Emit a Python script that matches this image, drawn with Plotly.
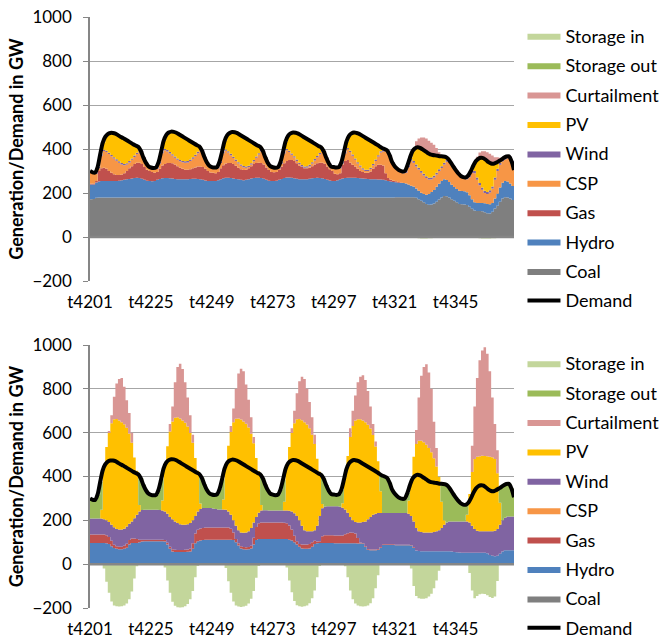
import plotly.graph_objects as go

# Hourly time steps of one week
hours = [f"t{n}" for n in range(4201, 4369)]
tick_labels = ["t4201", "t4225", "t4249", "t4273", "t4297", "t4321", "t4345"]

# Demand (GW), same in both scenarios
demand = (
    [300, 294, 293, 318, 375, 428, 455, 468, 473, 473, 470, 463, 456, 450, 443, 436, 429, 422, 416, 410, 392, 362, 338, 322]
    + [316, 314, 316, 340, 387, 437, 463, 475, 479, 478, 474, 467, 460, 453, 446, 439, 432, 425, 418, 412, 395, 365, 340, 324]
    + [318, 316, 318, 342, 387, 436, 462, 473, 477, 476, 472, 465, 458, 451, 444, 437, 430, 423, 416, 410, 393, 363, 338, 322]
    + [317, 315, 317, 340, 385, 434, 460, 471, 475, 474, 470, 463, 456, 449, 442, 435, 428, 421, 414, 408, 391, 361, 336, 320]
    + [318, 316, 318, 340, 385, 434, 460, 471, 475, 473, 469, 462, 455, 448, 441, 434, 427, 420, 412, 405, 400, 394, 372, 340]
    + [322, 310, 302, 298, 300, 325, 360, 390, 403, 408, 405, 398, 390, 382, 376, 373, 371, 369, 367, 366, 364, 356, 340, 322]
    + [305, 290, 278, 272, 271, 280, 300, 325, 345, 356, 360, 358, 350, 340, 334, 333, 338, 345, 352, 360, 366, 367, 345, 305]
)

# ---------------- Scenario 1 (upper chart) ----------------
coal_1 = (
    [172, 173, 178, 180, 180, 180, 180, 180, 180, 180, 180, 180, 180, 180, 180, 180, 180, 180, 180, 180, 180, 180, 180, 180]
    + [180, 180, 180, 180, 180, 180, 180, 180, 180, 180, 180, 180, 180, 180, 180, 180, 180, 180, 180, 180, 180, 180, 180, 180]
    + [180, 180, 180, 180, 180, 180, 180, 180, 180, 180, 180, 180, 180, 180, 180, 180, 180, 180, 180, 180, 180, 180, 180, 180]
    + [180, 180, 180, 180, 180, 180, 180, 180, 180, 180, 180, 180, 180, 180, 180, 180, 180, 180, 180, 180, 180, 180, 180, 180]
    + [180, 180, 180, 180, 180, 180, 180, 180, 180, 180, 180, 180, 180, 180, 180, 180, 180, 180, 180, 180, 180, 180, 180, 180]
    + [181, 181, 181, 181, 181, 181, 181, 181, 178, 172, 165, 158, 150, 147, 148, 152, 160, 170, 180, 186, 185, 180, 172, 165]
    + [158, 150, 149, 148, 145, 138, 128, 120, 118, 118, 117, 113, 108, 107, 115, 130, 142, 160, 175, 181, 180, 175, 168, 163]
)
hydro_1 = (
    [67, 66, 70, 72, 74, 75, 75, 75, 74, 74, 75, 76, 78, 80, 82, 84, 86, 88, 89, 88, 85, 80, 76, 74]
    + [73, 75, 80, 84, 87, 88, 88, 87, 86, 84, 83, 82, 82, 82, 83, 84, 85, 85, 84, 82, 80, 77, 75, 74]
    + [74, 75, 78, 83, 87, 89, 89, 88, 86, 84, 82, 80, 78, 80, 83, 86, 88, 89, 89, 88, 85, 80, 76, 74]
    + [74, 76, 80, 84, 88, 90, 90, 89, 87, 85, 83, 82, 82, 83, 85, 87, 88, 89, 88, 87, 84, 80, 77, 75]
    + [75, 78, 82, 86, 88, 89, 89, 89, 89, 88, 87, 86, 85, 84, 83, 82, 82, 81, 81, 80, 78, 75, 72, 70]
    + [68, 66, 65, 64, 62, 58, 52, 48, 42, 38, 36, 38, 42, 48, 56, 62, 68, 72, 75, 76, 74, 70, 66, 62]
    + [60, 60, 60, 60, 58, 52, 44, 38, 36, 36, 38, 40, 42, 42, 40, 45, 55, 65, 72, 74, 72, 68, 64, 61]
)
gas_1 = (
    [3, 4, 7, 48, 58, 60, 55, 45, 38, 31, 27, 26, 26, 30, 38, 48, 56, 64, 68, 70, 67, 58, 50, 46]
    + [42, 37, 35, 46, 58, 64, 68, 69, 69, 66, 59, 53, 48, 44, 43, 44, 47, 51, 56, 59, 58, 53, 45, 39]
    + [38, 35, 37, 49, 59, 65, 67, 68, 66, 60, 53, 48, 47, 46, 49, 56, 64, 67, 68, 68, 65, 56, 48, 42]
    + [40, 40, 45, 56, 67, 75, 80, 81, 78, 70, 62, 56, 51, 49, 50, 55, 62, 66, 69, 70, 69, 60, 51, 45]
    + [33, 27, 28, 64, 77, 81, 69, 59, 51, 42, 33, 29, 27, 28, 35, 48, 60, 67, 67, 65, 32, 13, 8, 6]
    + [4, 3, 2, 0, 0, 0, 0, 0, 0, 0, 0, 0, 0, 0, 0, 0, 0, 0, 0, 0, 0, 0, 0, 0]
    + [0, 0, 0, 0, 0, 0, 0, 0, 0, 0, 0, 0, 0, 0, 0, 0, 0, 0, 0, 0, 0, 0, 0, 0]
)
csp_1 = (
    [53, 46, 32, 12, 57, 76, 76, 77, 75, 72, 65, 56, 46, 36, 29, 27, 29, 32, 40, 50, 54, 38, 26, 16]
    + [15, 16, 15, 24, 56, 62, 53, 44, 35, 30, 29, 29, 30, 32, 33, 38, 44, 52, 61, 73, 71, 49, 34, 25]
    + [20, 20, 17, 24, 55, 58, 48, 36, 27, 22, 19, 16, 12, 9, 6, 7, 12, 24, 38, 53, 57, 41, 28, 20]
    + [17, 13, 6, 14, 44, 49, 36, 24, 16, 11, 7, 3, 2, 4, 7, 12, 18, 27, 39, 52, 52, 35, 22, 14]
    + [24, 25, 22, 4, 34, 49, 48, 41, 31, 24, 19, 12, 8, 8, 11, 16, 24, 38, 56, 64, 104, 120, 106, 78]
    + [61, 52, 46, 45, 49, 78, 114, 108, 101, 97, 91, 83, 76, 66, 58, 56, 56, 58, 59, 67, 83, 98, 94, 87]
    + [79, 72, 61, 56, 60, 82, 120, 132, 106, 81, 60, 47, 45, 53, 65, 85, 103, 103, 97, 97, 106, 116, 105, 73]
)
wind_1 = (
    [5, 5, 6, 6, 6, 6, 6, 6, 6, 6, 6, 6, 6, 6, 6, 6, 6, 6, 6, 6, 6, 6, 6, 6]
    + [6, 6, 6, 6, 6, 6, 6, 6, 6, 6, 6, 6, 6, 6, 6, 6, 6, 6, 6, 6, 6, 6, 6, 6]
    + [6, 6, 6, 6, 6, 6, 6, 6, 6, 6, 6, 6, 6, 6, 6, 6, 6, 6, 6, 6, 6, 6, 6, 6]
    + [6, 6, 6, 6, 6, 6, 6, 6, 6, 6, 6, 6, 6, 6, 6, 6, 6, 6, 6, 6, 6, 6, 6, 6]
    + [6, 6, 6, 6, 6, 6, 6, 6, 6, 6, 6, 6, 6, 6, 6, 6, 6, 6, 6, 6, 6, 6, 6, 6]
    + [8, 8, 8, 8, 8, 8, 8, 8, 8, 8, 8, 8, 8, 8, 8, 8, 8, 8, 8, 8, 8, 8, 8, 8]
    + [8, 8, 8, 8, 8, 8, 8, 10, 10, 10, 10, 10, 10, 10, 10, 10, 10, 10, 8, 8, 8, 8, 8, 8]
)
pv_1 = (
    [0, 0, 0, 0, 0, 31, 63, 85, 100, 110, 117, 119, 120, 118, 108, 91, 72, 52, 33, 16, 0, 0, 0, 0]
    + [0, 0, 0, 0, 0, 37, 68, 89, 103, 112, 117, 117, 114, 109, 101, 87, 70, 51, 31, 12, 0, 0, 0, 0]
    + [0, 0, 0, 0, 0, 38, 72, 95, 112, 124, 132, 135, 135, 130, 120, 102, 80, 57, 35, 15, 0, 0, 0, 0]
    + [0, 0, 0, 0, 0, 34, 68, 91, 108, 122, 132, 136, 135, 127, 114, 95, 74, 53, 32, 13, 0, 0, 0, 0]
    + [0, 0, 0, 0, 0, 29, 68, 96, 118, 133, 144, 149, 149, 142, 126, 102, 75, 48, 22, 10, 0, 0, 0, 0]
    + [0, 0, 0, 0, 0, 0, 5, 45, 74, 93, 105, 111, 114, 113, 106, 95, 79, 61, 45, 29, 14, 0, 0, 0]
    + [0, 0, 0, 0, 0, 0, 0, 25, 75, 111, 135, 148, 145, 128, 104, 63, 28, 7, 0, 0, 0, 0, 0, 0]
)
curtail_1 = (
    [0, 0, 0, 0, 0, 0, 0, 0, 0, 0, 0, 0, 0, 0, 0, 0, 0, 0, 0, 0, 0, 0, 0, 0]
    + [0, 0, 0, 0, 0, 0, 0, 0, 0, 0, 0, 0, 0, 0, 0, 0, 0, 0, 0, 0, 0, 0, 0, 0]
    + [0, 0, 0, 0, 0, 0, 0, 0, 0, 0, 0, 0, 0, 0, 0, 0, 0, 0, 0, 0, 0, 0, 0, 0]
    + [0, 0, 0, 0, 0, 0, 0, 0, 0, 0, 0, 0, 0, 0, 0, 0, 0, 0, 0, 0, 0, 0, 0, 0]
    + [0, 0, 0, 0, 0, 0, 0, 0, 0, 0, 0, 0, 0, 0, 0, 0, 0, 0, 0, 0, 0, 0, 0, 0]
    + [0, 0, 0, 0, 0, 0, 0, 0, 32, 40, 47, 54, 58, 56, 52, 46, 34, 16, 0, 0, 0, 0, 0, 0]
    + [0, 0, 0, 0, 0, 0, 0, 0, 20, 28, 30, 32, 35, 38, 36, 30, 25, 15, 0, 0, 0, 0, 0, 0]
)
storage_out_1 = [0] * 168
storage_in_1 = (
    [0, 0, 0, 0, 0, 0, 0, 0, 0, 0, 0, 0, 0, 0, 0, 0, 0, 0, 0, 0, 0, 0, 0, 0]
    + [0, 0, 0, 0, 0, 0, 0, 0, 0, 0, 0, 0, 0, 0, 0, 0, 0, 0, 0, 0, 0, 0, 0, 0]
    + [0, 0, 0, 0, 0, 0, 0, 0, 0, 0, 0, 0, 0, 0, 0, 0, 0, 0, 0, 0, 0, 0, 0, 0]
    + [0, 0, 0, 0, 0, 0, 0, 0, 0, 0, 0, 0, 0, 0, 0, 0, 0, 0, 0, 0, 0, 0, 0, 0]
    + [0, 0, 0, 0, 0, 0, 0, 0, 0, 0, 0, 0, 0, 0, 0, 0, 0, 0, 0, 0, 0, 0, 0, 0]
    + [0, 0, 0, 0, 0, 0, 0, 0, -3, -6, -7, -7, -7, -6, -6, -5, -4, -3, 0, 0, 0, 0, 0, 0]
    + [0, 0, 0, 0, 0, 0, 0, 0, -4, -6, -7, -7, -7, -7, -6, -6, -5, -3, 0, 0, 0, 0, 0, 0]
)

# ---------------- Scenario 2 (lower chart) ----------------
coal_2 = [0] * 168
csp_2 = [0] * 168
hydro_2 = (
    [97, 97, 97, 97, 97, 97, 96, 92, 82, 74, 70, 68, 68, 70, 75, 90, 97, 97, 97, 100, 104, 105, 105, 105]
    + [105, 105, 105, 105, 105, 103, 90, 70, 58, 56, 55, 55, 55, 56, 57, 58, 70, 95, 105, 108, 110, 112, 112, 112]
    + [112, 112, 112, 112, 112, 112, 112, 112, 110, 100, 85, 72, 68, 67, 68, 72, 90, 110, 115, 115, 115, 115, 115, 115]
    + [115, 115, 115, 115, 115, 115, 112, 108, 100, 90, 80, 72, 70, 70, 72, 80, 92, 95, 97, 97, 97, 97, 97, 97]
    + [96, 96, 96, 96, 96, 96, 96, 95, 95, 94, 94, 94, 80, 66, 64, 64, 64, 66, 75, 88, 88, 88, 88, 88]
    + [86, 86, 86, 86, 86, 86, 85, 75, 62, 60, 59, 59, 59, 59, 59, 59, 59, 59, 59, 59, 59, 59, 58, 56]
    + [54, 53, 52, 52, 52, 52, 52, 52, 52, 52, 52, 52, 50, 42, 38, 36, 38, 48, 58, 63, 64, 64, 64, 64]
)
gas_2 = (
    [38, 38, 38, 38, 38, 38, 36, 32, 25, 15, 12, 12, 12, 14, 18, 20, 20, 20, 18, 12, 8, 7, 7, 7]
    + [7, 7, 7, 7, 7, 7, 8, 10, 10, 10, 10, 10, 10, 10, 10, 12, 25, 45, 52, 55, 55, 55, 55, 55]
    + [55, 55, 55, 55, 55, 55, 55, 50, 35, 15, 10, 10, 10, 10, 10, 12, 30, 60, 72, 75, 75, 75, 75, 75]
    + [75, 75, 75, 75, 74, 72, 65, 50, 30, 15, 12, 18, 20, 20, 20, 20, 15, 8, 8, 30, 35, 35, 35, 35]
    + [35, 35, 35, 35, 40, 45, 48, 48, 45, 25, 5, 3, 3, 3, 3, 3, 3, 3, 3, 3, 3, 3, 3, 3]
    + [3, 3, 3, 3, 3, 3, 3, 3, 0, 0, 0, 0, 0, 0, 0, 0, 0, 0, 0, 0, 0, 0, 0, 0]
    + [0, 0, 0, 0, 0, 0, 0, 0, 0, 0, 0, 0, 0, 0, 0, 0, 0, 0, 0, 0, 0, 0, 0, 0]
)
wind_2 = (
    [73, 73, 73, 73, 73, 70, 68, 68, 73, 79, 78, 78, 78, 78, 79, 75, 78, 93, 110, 128, 135, 136, 136, 136]
    + [136, 136, 136, 135, 133, 130, 132, 135, 137, 129, 123, 117, 115, 114, 115, 118, 105, 80, 83, 89, 91, 89, 89, 89]
    + [87, 85, 83, 83, 83, 81, 73, 63, 55, 60, 60, 63, 65, 68, 72, 81, 70, 45, 48, 55, 56, 56, 55, 55]
    + [55, 55, 55, 55, 56, 58, 67, 82, 102, 115, 108, 85, 65, 60, 58, 50, 48, 72, 115, 128, 130, 132, 132, 132]
    + [133, 133, 131, 127, 114, 94, 71, 57, 52, 71, 91, 95, 112, 136, 148, 158, 163, 164, 155, 142, 142, 142, 142, 142]
    + [144, 144, 144, 144, 144, 141, 132, 117, 103, 90, 88, 86, 86, 86, 86, 88, 91, 96, 106, 121, 131, 136, 137, 139]
    + [141, 142, 143, 143, 143, 138, 123, 108, 100, 98, 98, 98, 100, 108, 112, 116, 122, 132, 142, 149, 154, 154, 154, 154]
)
pv_2 = (
    [0, 0, 0, 0, 40, 243, 335, 406, 463, 493, 502, 498, 490, 476, 451, 411, 359, 277, 201, 30, 0, 0, 0, 0]
    + [0, 0, 0, 0, 45, 212, 308, 390, 446, 473, 482, 483, 476, 465, 446, 411, 354, 265, 186, 25, 0, 0, 0, 0]
    + [0, 0, 0, 0, 45, 206, 300, 378, 447, 489, 510, 515, 508, 496, 474, 430, 362, 270, 189, 25, 0, 0, 0, 0]
    + [0, 0, 0, 0, 40, 204, 291, 359, 411, 441, 462, 482, 493, 487, 470, 441, 393, 306, 202, 20, 0, 0, 0, 0]
    + [0, 0, 0, 20, 145, 259, 365, 431, 463, 471, 471, 463, 452, 431, 404, 364, 307, 237, 100, 0, 0, 0, 0, 0]
    + [0, 0, 0, 0, 0, 60, 160, 295, 383, 413, 416, 411, 400, 385, 366, 336, 296, 244, 120, 20, 0, 0, 0, 0]
    + [0, 0, 0, 0, 30, 130, 245, 320, 338, 343, 345, 344, 342, 340, 338, 328, 255, 100, 0, 0, 0, 0, 0, 0]
)
curtail_2 = (
    [0, 0, 0, 0, 0, 0, 0, 10, 37, 103, 162, 189, 202, 171, 125, 94, 46, 0, 0, 0, 0, 0, 0, 0]
    + [0, 0, 0, 0, 0, 0, 0, 35, 69, 162, 230, 250, 234, 185, 132, 81, 36, 0, 0, 0, 0, 0, 0, 0]
    + [0, 0, 0, 0, 0, 0, 0, 27, 63, 136, 205, 232, 229, 179, 126, 75, 28, 0, 0, 0, 0, 0, 0, 0]
    + [0, 0, 0, 0, 0, 0, 0, 21, 57, 119, 173, 198, 197, 163, 120, 79, 42, 0, 0, 0, 0, 0, 0, 0]
    + [0, 0, 0, 0, 0, 0, 40, 69, 115, 169, 194, 207, 193, 154, 101, 51, 23, 0, 0, 0, 0, 0, 0, 0]
    + [0, 0, 0, 0, 0, 0, 0, 0, 64, 197, 297, 344, 367, 345, 289, 167, 84, 0, 0, 0, 0, 0, 0, 0]
    + [0, 0, 0, 0, 0, 0, 120, 240, 360, 437, 480, 496, 468, 390, 272, 160, 105, 0, 0, 0, 0, 0, 0, 0]
)
storage_out_2 = (
    [92, 86, 85, 110, 127, 0, 0, 0, 0, 0, 0, 0, 0, 0, 0, 0, 0, 0, 0, 140, 145, 114, 90, 74]
    + [68, 66, 68, 93, 97, 0, 0, 0, 0, 0, 0, 0, 0, 0, 0, 0, 0, 0, 0, 135, 139, 109, 84, 68]
    + [64, 64, 68, 92, 92, 0, 0, 0, 0, 0, 0, 0, 0, 0, 0, 0, 0, 0, 0, 140, 147, 117, 93, 77]
    + [72, 70, 72, 95, 100, 0, 0, 0, 0, 0, 0, 0, 0, 0, 0, 0, 0, 0, 0, 133, 129, 97, 72, 56]
    + [54, 52, 56, 62, 0, 0, 0, 0, 0, 0, 0, 0, 0, 0, 0, 0, 0, 0, 79, 172, 167, 161, 139, 107]
    + [89, 77, 69, 65, 67, 35, 0, 0, 0, 0, 0, 0, 0, 0, 0, 0, 0, 0, 82, 166, 174, 161, 145, 127]
    + [110, 95, 83, 77, 46, 0, 0, 0, 0, 0, 0, 0, 0, 0, 0, 0, 0, 65, 152, 148, 148, 149, 127, 87]
)
storage_in_2 = (
    [0, 0, 0, 0, 0, -20, -80, -130, -170, -188, -192, -193, -192, -188, -180, -160, -125, -65, -10, 0, 0, 0, 0, 0]
    + [0, 0, 0, 0, 0, -15, -75, -130, -172, -190, -196, -198, -196, -192, -182, -160, -122, -60, -8, 0, 0, 0, 0, 0]
    + [0, 0, 0, 0, 0, -18, -78, -130, -170, -188, -193, -195, -193, -190, -180, -158, -122, -62, -8, 0, 0, 0, 0, 0]
    + [0, 0, 0, 0, 0, -15, -75, -128, -168, -187, -192, -194, -192, -188, -178, -156, -120, -60, -8, 0, 0, 0, 0, 0]
    + [0, 0, 0, 0, -10, -60, -120, -160, -180, -188, -192, -193, -192, -188, -178, -155, -110, -50, 0, 0, 0, 0, 0, 0]
    + [0, 0, 0, 0, 0, 0, -20, -100, -145, -155, -158, -158, -155, -148, -135, -110, -75, -30, 0, 0, 0, 0, 0, 0]
    + [0, 0, 0, 0, 0, -40, -120, -155, -145, -137, -135, -136, -142, -150, -154, -147, -77, 0, 0, 0, 0, 0, 0, 0]
)

for series in (demand, coal_1, hydro_1, gas_1, csp_1, wind_1, pv_1, curtail_1, storage_in_1,
               hydro_2, gas_2, wind_2, pv_2, curtail_2, storage_out_2, storage_in_2):
    assert len(series) == 168, len(series)

colors = {
    "Storage in": "#C3D69B",
    "Storage out": "#9BBB59",
    "Curtailment": "#D99694",
    "PV": "#FFC000",
    "Wind": "#8064A2",
    "CSP": "#F79646",
    "Gas": "#C0504D",
    "Hydro": "#4F81BD",
    "Coal": "#7F7F7F",
}
rank = {"Storage in": 1, "Storage out": 2, "Curtailment": 3, "PV": 4, "Wind": 5,
        "CSP": 6, "Gas": 7, "Hydro": 8, "Coal": 9, "Demand": 10}

scenarios = [
    ("x", "y", "legend", "top", {
        "Coal": coal_1, "Hydro": hydro_1, "Gas": gas_1, "CSP": csp_1, "Wind": wind_1,
        "PV": pv_1, "Curtailment": curtail_1, "Storage out": storage_out_1,
    }, storage_in_1),
    ("x2", "y2", "legend2", "bottom", {
        "Coal": coal_2, "Hydro": hydro_2, "Gas": gas_2, "CSP": csp_2, "Wind": wind_2,
        "PV": pv_2, "Curtailment": curtail_2, "Storage out": storage_out_2,
    }, storage_in_2),
]

fig = go.Figure()
for xa, ya, leg, tag, stack, s_in in scenarios:
    for name, vals in stack.items():
        fig.add_trace(go.Scatter(
            x=hours, y=vals, name=name, xaxis=xa, yaxis=ya, legend=leg,
            stackgroup=tag + "_pos", mode="lines",
            line=dict(width=0, shape="hv", color=colors[name]),
            fillcolor=colors[name], legendrank=rank[name],
            legendgroup=tag + name, hoverinfo="skip",
        ))
    fig.add_trace(go.Scatter(
        x=hours, y=s_in, name="Storage in", xaxis=xa, yaxis=ya, legend=leg,
        stackgroup=tag + "_neg", mode="lines",
        line=dict(width=0, shape="hv", color=colors["Storage in"]),
        fillcolor=colors["Storage in"], legendrank=rank["Storage in"],
        legendgroup=tag + "Storage in", hoverinfo="skip",
    ))
    fig.add_trace(go.Scatter(
        x=hours, y=demand, name="Demand", xaxis=xa, yaxis=ya, legend=leg,
        mode="lines", line=dict(width=4, color="black", shape="spline", smoothing=0.8),
        legendrank=rank["Demand"], legendgroup=tag + "Demand", hoverinfo="skip",
    ))

font_family = "Lato, sans-serif"
axis_font = dict(family=font_family, size=17, color="black")
grid = "#A6A6A6"

yaxis_common = dict(
    range=[-200, 1000], dtick=200, tick0=0, showgrid=True, gridcolor=grid, gridwidth=1.3,
    showline=True, linecolor="#868686", linewidth=1.5, zeroline=False,
    ticks="outside", ticklen=5, tickcolor="#868686", tickfont=axis_font,
    ticklabelstandoff=8,
    title=dict(text="<b>Generation/Demand in GW</b>",
               font=dict(family=font_family, size=18, color="black"), standoff=4),
)
xaxis_common = dict(
    type="category", categoryorder="array", categoryarray=hours,
    range=[0, 167], tickmode="array", tickvals=tick_labels, ticktext=tick_labels,
    showgrid=False, showline=False, zeroline=False, ticks="", tickfont=axis_font,
    ticklabelstandoff=9,
)

legend_common = dict(
    x=1.02, xanchor="left", yanchor="top", traceorder="grouped", tracegroupgap=3,
    font=dict(family=font_family, size=18, color="black"),
    bgcolor="rgba(0,0,0,0)", itemwidth=33,
)

fig.update_layout(
    width=663, height=640, plot_bgcolor="white", paper_bgcolor="white",
    margin=dict(l=90, r=149, t=17, b=32, autoexpand=False),
    showlegend=True,
    xaxis=dict(xaxis_common, anchor="y", domain=[0, 1]),
    xaxis2=dict(xaxis_common, anchor="y2", domain=[0, 1]),
    yaxis=dict(yaxis_common, anchor="x", domain=[0.5533, 1]),
    yaxis2=dict(yaxis_common, anchor="x2", domain=[0, 0.445]),
    legend=dict(legend_common, y=0.999),
    legend2=dict(legend_common, y=0.445),
    shapes=[
        dict(type="line", xref="x domain", yref="y", x0=0, x1=1, y0=0, y1=0,
             line=dict(color="#868686", width=2.5), layer="above"),
        dict(type="line", xref="x2 domain", yref="y2", x0=0, x1=1, y0=0, y1=0,
             line=dict(color="#868686", width=2.5), layer="above"),
    ],
)

fig.write_html("out.html")
